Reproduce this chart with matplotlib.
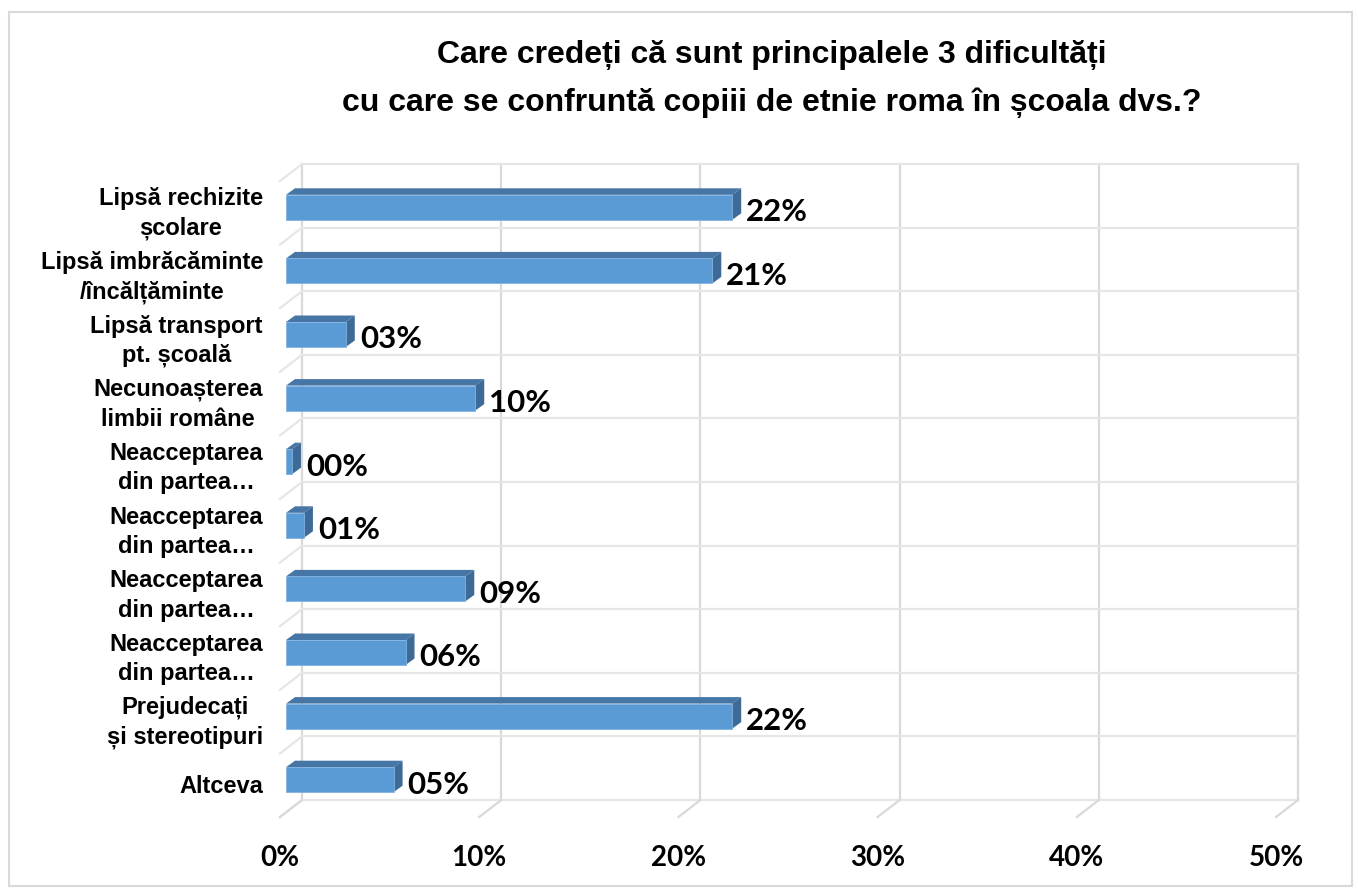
import matplotlib
matplotlib.use("Agg")
import matplotlib.pyplot as plt
import matplotlib.patches as patches
from matplotlib.transforms import offset_copy

categories = [
    "Lipsă rechizite\nșcolare",
    "Lipsă imbrăcăminte\n/încălțăminte",
    "Lipsă transport\npt. școală",
    "Necunoașterea\nlimbii române",
    "Neacceptarea\ndin partea…",
    "Neacceptarea\ndin partea…",
    "Neacceptarea\ndin partea…",
    "Neacceptarea\ndin partea…",
    "Prejudecați\nși stereotipuri",
    "Altceva",
]
values = [22.4, 21.4, 3.0, 9.5, 0.3, 0.9, 9.0, 6.0, 22.4, 5.4]
xticks = [0, 10, 20, 30, 40, 50]
title_lines = ["Care credeți că sunt principalele 3 dificultăți",
               "cu care se confruntă copiii de etnie roma în școala dvs.?"]

W, H = 1358, 890
fig = plt.figure(figsize=(W / 100, H / 100), dpi=100)

# back wall of the 3d chart, in pixels
wx0, wx1, wy0, wy1 = 302, 1298, 164, 800
ax = fig.add_axes([wx0 / W, 1 - wy1 / H, (wx1 - wx0) / W, (wy1 - wy0) / H])
ax.set_xlim(0, 50)
ax.set_ylim(len(categories) - 0.5, -0.5)
ax.axis("off")

px_x = 50 / (wx1 - wx0)            # data units per pixel
px_y = len(categories) / (wy1 - wy0)

grid_v = "#d9d9d9"
grid_h = "#e6e6e6"

# back wall gridlines
for t in xticks:
    ax.plot([t, t], [-0.5, len(categories) - 0.5], color=grid_v, lw=1.6, clip_on=False, zorder=1)
for k in range(len(categories) + 1):
    b = k - 0.5
    ax.plot([0, 50], [b, b], color=grid_h, lw=1.6, clip_on=False, zorder=1)
    # left side wall
    ax.plot([0, -22 * px_x], [b, b + 17 * px_y], color=grid_h, lw=1.6, clip_on=False, zorder=1)
# floor
for t in xticks:
    ax.plot([t, t - 22 * px_x], [len(categories) - 0.5, len(categories) - 0.5 + 17 * px_y],
            color=grid_v, lw=1.6, clip_on=False, zorder=1)

# bars: front face shifted toward the viewer
front = offset_copy(ax.transData, fig=fig, x=-16, y=-11.5, units="dots")
bh = 25 * px_y
ddx, ddy = 9 * px_x, 6.5 * px_y
c_front, c_top, c_side = "#5b9bd5", "#4676a6", "#3d6a96"
for i, v in enumerate(values):
    yt, yb = i - bh / 2, i + bh / 2
    top = patches.Polygon([(0, yt), (v, yt), (v + ddx, yt - ddy), (ddx, yt - ddy)],
                          closed=True, facecolor=c_top, edgecolor="none",
                          transform=front, clip_on=False, zorder=3)
    side = patches.Polygon([(v, yt), (v + ddx, yt - ddy), (v + ddx, yb - ddy), (v, yb)],
                           closed=True, facecolor=c_side, edgecolor="none",
                           transform=front, clip_on=False, zorder=3)
    face = patches.Rectangle((0, yt), v, bh, facecolor=c_front, edgecolor="#7fb2e0",
                             lw=0.6, transform=front, clip_on=False, zorder=4)
    for p in (top, side, face):
        ax.add_patch(p)
    ax.text(v, i, "%02d%%" % round(v), fontsize=22.5, fontweight="bold", family="Lato",
            ha="left", va="center", color="black",
            transform=offset_copy(front, fig=fig, x=14, y=-5, units="dots"))

# category labels
lab_tr = offset_copy(ax.transData, fig=fig, x=-39, y=-18, units="dots")
for i, c in enumerate(categories):
    ax.text(0, i, c, fontsize=17, fontweight="bold", family="Liberation Sans",
            ha="right", va="center", multialignment="center", linespacing=1.35,
            transform=lab_tr)

# x tick labels on the floor front edge
tick_tr = offset_copy(ax.transData, fig=fig, x=-22, y=-58, units="dots")
for t in xticks:
    ax.text(t, len(categories) - 0.5, "%d%%" % t, fontsize=20, fontweight="bold",
            family="Lato", ha="center", va="center", transform=tick_tr)

fig.text(772 / W, 1 - 55 / H, title_lines[0], fontsize=23, fontweight="bold",
         family="Liberation Sans", ha="center", va="center")
fig.text(772 / W, 1 - 103 / H, title_lines[1], fontsize=23, fontweight="bold",
         family="Liberation Sans", ha="center", va="center")

fig.patches.append(patches.Rectangle((9 / W, 4 / H), 1 - 15 / W, 1 - 16 / H,
                                     transform=fig.transFigure, fill=False,
                                     edgecolor="#d9d9d9", lw=1.5))

fig.savefig("out.png", dpi=100)
